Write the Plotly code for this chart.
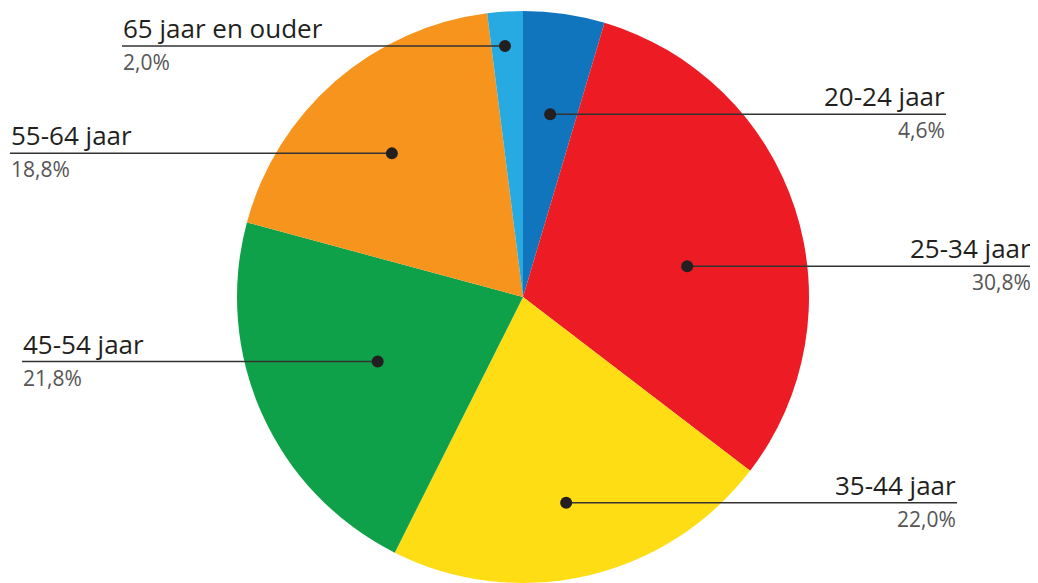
import math
import plotly.graph_objects as go

# ---- data ----
categories = ["20-24 jaar", "25-34 jaar", "35-44 jaar", "45-54 jaar", "55-64 jaar", "65 jaar en ouder"]
values = [4.6, 30.8, 22.0, 21.8, 18.8, 2.0]
pct_labels = ["4,6%", "30,8%", "22,0%", "21,8%", "18,8%", "2,0%"]
colors = ["#1075bc", "#ed1c24", "#fedd15", "#0fa14a", "#f7941d", "#27aae1"]

# ---- layout params (pixels) ----
OFF = 8  # browser body margin
W, H = 1030, 575
ML, MR, MT, MB = 0, 0, 3, 0
PW, PH = W - ML - MR, H - MT - MB
R = min(PW, PH) / 2
CX, CY = ML + PW / 2, MT + PH / 2
# position of leader dot inside each slice: (fraction along slice, fraction of radius)
dot_pos = [(0.51, 0.646), (0.567, 0.584), (0.514, 0.735), (0.502, 0.556), (0.48, 0.68), (0.43, 0.88)]
# label side and text edge x in page pixels
label_side = ["right", "right", "right", "left", "left", "left"]
label_edge = [946, 1032, 957, 22, 10, 122]

def px_to_paper(px, py):
    return (px - ML) / PW, 1 - (py - MT) / PH

fig = go.Figure(go.Pie(
    labels=categories, values=values, sort=False, direction="clockwise", rotation=0,
    marker=dict(colors=colors, line=dict(width=0)),
    textinfo="none", showlegend=False, hole=0,
))

total = sum(values)
cum = 0.0
shapes, annotations = [], []
for i, v in enumerate(values):
    start = cum / total * 360
    span = v / total * 360
    cum += v
    f, rf = dot_pos[i]
    ang = math.radians(start + f * span)
    dx = CX + rf * R * math.sin(ang)
    dy = CY - rf * R * math.cos(ang)
    ex = label_edge[i] - OFF
    px0, py0 = px_to_paper(dx, dy)
    pxe, _ = px_to_paper(ex, dy)
    shapes.append(dict(type="line", xref="paper", yref="paper", x0=px0, x1=pxe, y0=py0, y1=py0,
                       line=dict(color="#333333", width=1.5)))
    shapes.append(dict(type="circle", xref="paper", yref="paper", xsizemode="pixel", ysizemode="pixel",
                       xanchor=px0, yanchor=py0, x0=-6, x1=6, y0=-6, y1=6,
                       fillcolor="#231f20", line=dict(width=0)))
    xanchor = "right" if label_side[i] == "right" else "left"
    annotations.append(dict(xref="paper", yref="paper", x=pxe, y=py0, xanchor=xanchor, yanchor="bottom",
                            text=categories[i], showarrow=False, yshift=-1, borderpad=0,
                            font=dict(family="Open Sans", size=26, color="#231f20")))
    annotations.append(dict(xref="paper", yref="paper", x=pxe, y=py0, xanchor=xanchor, yanchor="top",
                            text=pct_labels[i], showarrow=False, yshift=-1, borderpad=0,
                            font=dict(family="Open Sans", size=21, color="#555555")))

fig.update_layout(
    width=W, height=H, margin=dict(l=ML, r=MR, t=MT, b=MB),
    paper_bgcolor="white", plot_bgcolor="white",
    shapes=shapes, annotations=annotations,
)
fig.write_html("out.html")
